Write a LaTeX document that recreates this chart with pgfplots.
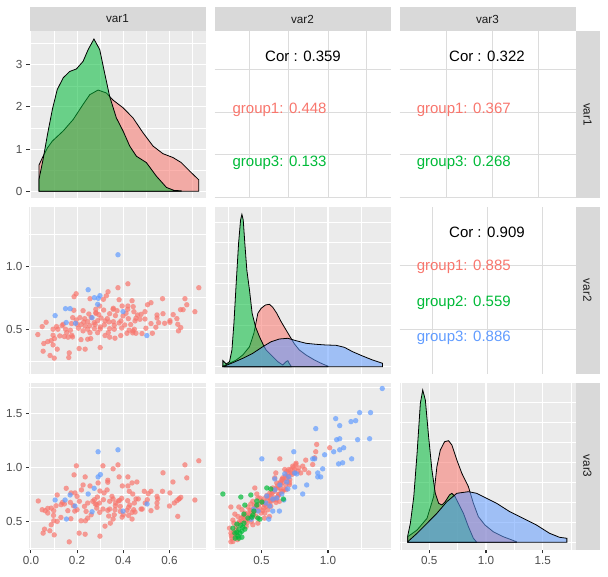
\documentclass[border=0pt]{standalone}
\usepackage{pgfplots}
\pgfplotsset{compat=1.18}
\usepackage{pgfplotstable}
\usepackage{fontspec}
\setmainfont{Liberation Sans}
\definecolor{ggbg}{HTML}{EBEBEB}
\definecolor{gred}{HTML}{F8766D}
\definecolor{ggreen}{HTML}{00BA38}
\definecolor{gblue}{HTML}{619CFF}
\definecolor{stripbg}{HTML}{D9D9D9}
\definecolor{gridt}{HTML}{DCDCDC}
\definecolor{tickl}{HTML}{4D4D4D}
\definecolor{tickc}{HTML}{333333}
\definecolor{stript}{HTML}{1A1A1A}
\newcommand{\tsz}{\fontsize{11.7}{14}\selectfont}
\newcommand{\csz}{\fontsize{15}{18}\selectfont}

% ---------- scatter data ----------
\pgfplotstableread{
x y
0.727 0.829
0.420 0.860
0.377 0.829
0.334 0.797
0.196 0.781
0.187 0.758
0.327 0.765
0.314 0.737
0.256 0.742
0.382 0.734
0.438 0.726
0.570 0.742
0.667 0.742
0.520 0.710
0.505 0.694
0.675 0.694
0.420 0.684
0.395 0.684
0.357 0.666
0.356 0.658
0.315 0.652
0.281 0.658
0.226 0.647
0.186 0.650
0.282 0.626
0.294 0.616
0.251 0.621
0.341 0.623
0.373 0.647
0.494 0.639
0.462 0.613
0.477 0.618
0.572 0.623
0.546 0.613
0.546 0.589
0.616 0.616
0.648 0.655
0.659 0.655
0.710 0.639
0.632 0.584
0.602 0.568
0.602 0.555
0.553 0.552
0.520 0.545
0.494 0.581
0.472 0.579
0.455 0.587
0.451 0.566
0.422 0.584
0.390 0.566
0.382 0.550
0.338 0.558
0.321 0.566
0.289 0.568
0.274 0.552
0.246 0.560
0.229 0.558
0.217 0.537
0.196 0.573
0.181 0.592
0.176 0.545
0.140 0.539
0.135 0.529
0.111 0.521
0.066 0.555
0.049 0.521
0.096 0.500
0.117 0.500
0.150 0.500
0.171 0.492
0.206 0.508
0.226 0.487
0.246 0.500
0.275 0.505
0.301 0.518
0.318 0.534
0.341 0.505
0.361 0.500
0.393 0.510
0.425 0.492
0.442 0.487
0.448 0.500
0.441 0.471
0.481 0.466
0.498 0.508
0.541 0.516
0.579 0.547
0.636 0.539
0.649 0.513
0.639 0.487
0.030 0.458
0.056 0.387
0.073 0.402
0.088 0.410
0.102 0.426
0.125 0.447
0.145 0.442
0.161 0.437
0.180 0.439
0.217 0.418
0.246 0.421
0.259 0.426
0.289 0.473
0.321 0.450
0.341 0.437
0.364 0.429
0.389 0.450
0.416 0.468
0.455 0.468
0.526 0.468
0.096 0.376
0.114 0.342
0.053 0.326
0.083 0.292
0.101 0.271
0.166 0.313
0.164 0.276
0.209 0.347
0.235 0.342
0.300 0.355
0.335 0.473
0.155 0.473
0.096 0.452
0.177 0.452
0.256 0.473
0.300 0.502
0.278 0.537
0.255 0.529
0.235 0.526
0.200 0.539
0.361 0.531
0.406 0.534
0.432 0.537
0.357 0.560
0.331 0.584
0.304 0.589
0.366 0.608
0.399 0.605
0.412 0.626
0.446 0.639
0.443 0.679
0.419 0.658
0.298 0.684
0.281 0.631
0.261 0.592
0.233 0.584
0.212 0.592
}\rtwoonered
\pgfplotstableread{
x y
0.377 1.090
0.248 0.813
0.299 0.766
0.275 0.750
0.292 0.745
0.289 0.697
0.150 0.663
0.170 0.663
0.105 0.608
0.399 0.640
0.153 0.553
0.193 0.547
0.265 0.592
0.502 0.450
}\rtwooneblue
\pgfplotstableread{
x y
0.727 1.063
0.667 1.025
0.675 0.904
0.572 0.951
0.615 0.866
0.197 1.016
0.312 1.016
0.377 1.025
0.356 0.988
0.187 0.932
0.235 0.913
0.291 0.857
0.333 0.882
0.333 0.863
0.382 0.913
0.420 0.913
0.438 0.857
0.459 0.866
0.226 0.838
0.256 0.829
0.396 0.829
0.420 0.829
0.153 0.807
0.219 0.792
0.191 0.764
0.174 0.764
0.114 0.745
0.200 0.732
0.330 0.792
0.299 0.782
0.317 0.764
0.351 0.732
0.356 0.708
0.393 0.714
0.379 0.689
0.426 0.779
0.441 0.754
0.455 0.708
0.465 0.708
0.491 0.779
0.520 0.779
0.508 0.757
0.570 0.779
0.602 0.764
0.546 0.732
0.549 0.708
0.649 0.723
0.642 0.708
0.632 0.692
0.621 0.670
0.710 0.698
0.546 0.670
0.546 0.630
0.600 0.642
0.495 0.670
0.448 0.670
0.428 0.651
0.423 0.630
0.445 0.608
0.482 0.614
0.520 0.599
0.451 0.586
0.416 0.602
0.400 0.561
0.423 0.555
0.438 0.521
0.387 0.592
0.364 0.608
0.341 0.614
0.333 0.602
0.312 0.614
0.285 0.623
0.279 0.661
0.297 0.670
0.268 0.686
0.246 0.670
0.232 0.639
0.239 0.592
0.261 0.561
0.246 0.530
0.236 0.505
0.217 0.505
0.190 0.595
0.160 0.599
0.131 0.655
0.109 0.645
0.088 0.623
0.062 0.599
0.049 0.608
0.032 0.689
0.073 0.577
0.099 0.599
0.098 0.555
0.130 0.536
0.173 0.524
0.114 0.499
0.099 0.505
0.088 0.468
0.059 0.427
0.053 0.390
0.082 0.412
0.101 0.374
0.166 0.309
0.209 0.390
0.235 0.380
0.299 0.362
0.321 0.455
0.344 0.483
0.356 0.521
0.337 0.549
0.361 0.561
0.395 0.539
0.438 0.583
0.477 0.614
0.504 0.701
0.145 0.661
0.210 0.686
0.285 0.655
0.298 0.583
0.341 0.686
0.367 0.670
0.384 0.695
0.419 0.692
0.387 0.639
0.366 0.645
0.314 0.701
0.288 0.726
0.275 0.701
0.636 0.546
0.641 0.708
0.200 0.608
0.184 0.645
0.171 0.676
0.137 0.676
0.073 0.620
}\rthreeonered
\pgfplotstableread{
x y
0.291 1.147
0.377 1.165
0.301 0.935
0.291 0.913
0.274 0.807
0.248 0.754
0.170 0.745
0.105 0.698
0.148 0.698
0.191 0.642
0.503 0.661
0.399 0.595
0.265 0.589
0.154 0.521
}\rthreeoneblue
\pgfplotstableread{
x y
0.270 0.633
0.300 0.567
0.330 0.633
0.375 0.577
0.360 0.539
0.285 0.511
0.293 0.483
0.260 0.436
0.270 0.390
0.278 0.343
0.285 0.312
0.315 0.380
0.390 0.483
0.405 0.520
0.413 0.605
0.420 0.661
0.450 0.651
0.465 0.754
0.488 0.717
0.510 0.670
0.518 0.623
0.525 0.577
0.548 0.608
0.563 0.686
0.563 0.763
0.585 0.810
0.600 0.904
0.615 0.857
0.638 0.810
0.645 0.857
0.660 0.904
0.675 0.982
0.690 0.966
0.705 0.982
0.735 1.013
0.750 0.982
0.780 0.997
0.795 0.950
0.833 1.069
0.855 0.950
0.885 1.028
0.900 1.091
0.908 1.147
0.915 1.215
1.013 1.184
0.638 1.081
0.450 0.810
0.608 0.950
0.630 0.748
0.653 0.888
0.683 0.841
0.713 0.888
0.728 0.935
0.758 1.028
0.773 0.966
0.810 1.013
0.825 0.982
0.473 0.717
0.435 0.686
0.398 0.633
0.353 0.608
0.323 0.545
0.335 0.499
0.373 0.520
0.410 0.561
0.448 0.592
0.485 0.623
0.523 0.654
0.548 0.717
0.573 0.748
0.598 0.779
0.623 0.810
0.648 0.841
0.673 0.873
0.698 0.919
0.723 0.950
0.748 0.950
0.573 0.686
0.598 0.717
0.623 0.732
0.535 0.639
0.498 0.577
0.460 0.545
0.423 0.499
0.385 0.452
0.348 0.530
0.310 0.421
0.273 0.365
0.685 0.795
0.710 0.841
0.635 0.686
0.660 0.779
0.610 0.676
0.560 0.545
0.523 0.530
0.473 0.483
0.435 0.468
0.290 0.400
0.310 0.450
0.330 0.480
0.350 0.500
0.370 0.550
0.400 0.570
0.420 0.600
0.440 0.620
0.460 0.640
0.480 0.660
0.500 0.690
0.520 0.710
0.540 0.740
0.560 0.720
0.580 0.760
0.600 0.800
0.620 0.830
0.640 0.860
0.660 0.890
0.680 0.920
0.700 0.950
0.720 0.980
0.740 1.000
0.760 1.040
0.470 0.600
0.510 0.600
0.550 0.660
0.590 0.700
0.630 0.750
0.670 0.800
0.710 0.860
0.380 0.500
0.420 0.530
0.440 0.570
0.530 0.680
0.570 0.640
0.610 0.700
0.650 0.780
0.690 0.900
0.320 0.330
0.300 0.360
0.270 0.310
}\rthreetwored
\pgfplotstableread{
x y
1.408 1.735
1.238 1.511
1.320 1.511
1.058 1.455
1.173 1.427
1.208 1.436
1.088 1.390
0.908 1.362
1.065 1.259
1.088 1.268
1.223 1.259
1.313 1.268
1.118 1.184
1.088 1.165
1.043 1.147
0.975 1.119
0.743 1.147
1.178 1.081
0.503 1.081
0.885 1.081
0.900 1.081
1.110 1.044
1.080 1.034
0.960 0.988
0.923 0.950
0.923 0.913
0.945 0.913
0.840 0.838
0.810 0.754
0.750 0.950
0.765 0.941
0.705 0.913
0.690 0.866
0.750 0.819
0.698 0.801
0.653 0.754
0.668 0.698
0.540 0.735
0.585 0.707
0.615 0.717
0.563 0.642
0.585 0.595
0.635 0.595
0.555 0.520
0.443 0.614
0.423 0.520
0.475 0.595
0.533 0.670
0.675 0.941
0.600 0.894
0.638 0.838
0.600 0.792
}\rthreetwoblue
\pgfplotstableread{
x y
0.210 0.754
0.345 0.726
0.420 0.745
0.540 0.810
0.570 0.801
0.465 0.689
0.503 0.679
0.375 0.651
0.465 0.651
0.368 0.567
0.435 0.558
0.428 0.539
0.473 0.530
0.488 0.520
0.315 0.474
0.345 0.464
0.360 0.446
0.330 0.427
0.300 0.390
0.323 0.362
0.353 0.352
0.338 0.390
0.375 0.427
0.368 0.483
0.315 0.399
0.353 0.408
0.285 0.436
0.665 0.707
0.398 0.530
0.443 0.595
0.303 0.343
0.330 0.343
}\rthreetwogreen

\pgfplotsset{
 gg/.style={scale only axis, width=176pt, height=167pt, anchor=south west,
  axis background/.style={fill=ggbg}, axis line style={draw=none},
  enlargelimits=false, clip=true,
  grid=both, major grid style={draw=white, line width=1.07pt},
  minor grid style={draw=white, line width=0.53pt},
  tick align=outside, major tick length=3.7pt, minor tick length=0pt,
  xtick style={draw=none}, ytick style={draw=none},
  xticklabels={}, yticklabels={},
  tick label style={font=\tsz, text=tickl}},
 leftticks/.style={ytick style={draw=tickc, line width=1.07pt}, ytick pos=left},
 bottomticks/.style={xtick style={draw=tickc, line width=1.07pt}, xtick pos=bottom},
 c1/.style={xmin=-0.006, xmax=0.756, xtick={0,0.2,0.4,0.6}, minor xtick={0.1,0.3,0.5,0.7}},
 c2/.style={xmin=0.147, xmax=1.47, xtick={0.5,1.0}, minor xtick={0.25,0.75,1.25}},
 c3/.style={xmin=0.237, xmax=1.79, xtick={0.5,1.0,1.5}, minor xtick={0.25,0.75,1.25,1.75}},
 r2/.style={ymin=0.147, ymax=1.47, ytick={0.5,1.0}, minor ytick={0.25,0.75,1.25}},
 r3/.style={ymin=0.237, ymax=1.79, ytick={0.5,1.0,1.5}, minor ytick={0.25,0.75,1.25,1.75}},
 txt/.style={scale only axis, width=176pt, height=167pt, anchor=south west,
  xmin=0, xmax=1, ymin=0, ymax=1, axis line style={draw=none},
  major grid style={draw=gridt, line width=0.9pt}, xmajorgrids, ymajorgrids,
  xtick style={draw=none}, ytick style={draw=none}, xticklabels={}, yticklabels={}},
 pts/.style={only marks, mark=*, mark size=2.7pt, color=#1, mark options={line width=0pt, draw opacity=0, fill=#1, fill opacity=0.7}},
 dens/.style={draw=black, line width=0.8pt, fill=#1, fill opacity=0.55},
}

\begin{document}
\begin{tikzpicture}
% ===== row 1 =====
\begin{axis}[gg, c1, leftticks, at={(29.5pt,379pt)}, ymin=-0.16, ymax=3.80,
  ytick={0,1,2,3}, minor ytick={0.5,1.5,2.5,3.5}, yticklabels={0,1,2,3}]
\addplot[dens=gred] coordinates {(0.035,0) (0.035,0.62) (0.053,0.83) (0.072,1.03) (0.093,1.19) (0.140,1.43) (0.183,1.70) (0.226,2.06) (0.255,2.29) (0.291,2.40) (0.327,2.33) (0.356,2.16) (0.399,1.98) (0.442,1.74) (0.485,1.39) (0.529,1.07) (0.572,0.89) (0.615,0.80) (0.651,0.68) (0.687,0.48) (0.727,0.27) (0.727,0)} \closedcycle;
\addplot[dens=ggreen] coordinates {(0.035,0) (0.035,0.28) (0.053,0.76) (0.072,1.35) (0.093,1.94) (0.114,2.41) (0.140,2.69) (0.168,2.84) (0.197,2.90) (0.226,3.08) (0.248,3.36) (0.273,3.61) (0.298,3.36) (0.319,2.81) (0.341,2.25) (0.370,1.74) (0.399,1.43) (0.428,1.07) (0.457,0.83) (0.500,0.68) (0.543,0.36) (0.587,0.09) (0.620,0.02) (0.651,0.01) (0.651,0)} \closedcycle;
\end{axis}
\begin{axis}[txt, at={(214.5pt,379pt)}, xtick={0.196,0.418,0.645,0.866}, ytick={0.006,0.263,0.515,0.772}]
\node[font=\csz, text=black] at (axis cs:0.503,0.85) {Cor : 0.359};
\node[font=\csz, text=gred, anchor=west] at (axis cs:0.083,0.527) {group1: 0.448};
\node[font=\csz, text=ggreen, anchor=west] at (axis cs:0.083,0.21) {group3: 0.133};
\end{axis}
\begin{axis}[txt, at={(399.5pt,379pt)}, xtick={0.264,0.526,0.787}, ytick={0.006,0.263,0.515,0.772}]
\node[font=\csz, text=black] at (axis cs:0.497,0.85) {Cor : 0.322};
\node[font=\csz, text=gred, anchor=west] at (axis cs:0.078,0.527) {group1: 0.367};
\node[font=\csz, text=ggreen, anchor=west] at (axis cs:0.078,0.21) {group3: 0.268};
\end{axis}
% ===== row 2 =====
\begin{axis}[gg, c1, r2, leftticks, at={(29.5pt,203.2pt)}, yticklabels={0.5,1.0}]
\addplot[pts=gred] table {\rtwoonered};
\addplot[pts=gblue] table {\rtwooneblue};
\end{axis}
\begin{axis}[gg, c2, at={(214.5pt,203.2pt)}, ymin=-0.71, ymax=15.99,
  ytick={0,4.14,8.28,12.42}, minor ytick={2.07,6.21,10.35,14.49}]
\addplot[dens=gred] coordinates {(0.21,0) (0.21,0.07) (0.26,0.34) (0.31,0.67) (0.36,1.17) (0.41,2.0) (0.443,3.34) (0.473,5.34) (0.498,5.84) (0.53,6.17) (0.56,6.24) (0.585,5.94) (0.615,5.34) (0.648,4.5) (0.685,3.67) (0.715,3.0) (0.748,2.27) (0.785,1.67) (0.835,1.17) (0.898,0.67) (0.96,0.27) (1.0,0.05) (1.0,0)} \closedcycle;
\addplot[dens=ggreen] coordinates {(0.21,0) (0.21,0.6) (0.235,0.27) (0.26,0.5) (0.278,1.67) (0.293,4.34) (0.31,8.34) (0.328,12.34) (0.343,14.67) (0.353,15.24) (0.363,14.67) (0.375,12.34) (0.39,9.67) (0.41,7.67) (0.43,5.34) (0.455,4.0) (0.485,3.0) (0.518,2.07) (0.535,1.67) (0.56,1.34) (0.585,1.0) (0.623,0.5) (0.66,0.17) (0.685,0.5) (0.698,0.6) (0.71,0.3) (0.723,0.05) (0.723,0)} \closedcycle;
\addplot[dens=gblue] coordinates {(0.223,0) (0.223,0.07) (0.285,0.4) (0.36,0.84) (0.435,1.34) (0.51,2.0) (0.573,2.5) (0.635,2.77) (0.698,2.84) (0.76,2.6) (0.835,2.34) (0.91,2.24) (0.985,2.17) (1.06,2.14) (1.123,1.94) (1.185,1.5) (1.26,1.07) (1.335,0.67) (1.41,0.34) (1.41,0)} \closedcycle;
\end{axis}
\begin{axis}[txt, at={(399.5pt,203.2pt)}, xtick={0.185,0.497,0.81}, ytick={0.268,0.646}]
\node[font=\csz, text=black] at (axis cs:0.497,0.849) {Cor : 0.909};
\node[font=\csz, text=gred, anchor=west] at (axis cs:0.078,0.64) {group1: 0.885};
\node[font=\csz, text=ggreen, anchor=west] at (axis cs:0.078,0.424) {group2: 0.559};
\node[font=\csz, text=gblue, anchor=west] at (axis cs:0.078,0.214) {group3: 0.886};
\end{axis}
% ===== row 3 =====
\begin{axis}[gg, c1, r3, leftticks, bottomticks, at={(29.5pt,27.4pt)},
  yticklabels={0.5,1.0,1.5}, xticklabels={0.0,0.2,0.4,0.6}]
\addplot[pts=gred] table {\rthreeonered};
\addplot[pts=gblue] table {\rthreeoneblue};
\end{axis}
\begin{axis}[gg, c2, r3, bottomticks, at={(214.5pt,27.4pt)}, xticklabels={0.5,1.0}]
\addplot[pts=gred] table {\rthreetwored};
\addplot[pts=gblue] table {\rthreetwoblue};
\addplot[pts=ggreen] table {\rthreetwogreen};
\end{axis}
\begin{axis}[gg, c3, bottomticks, at={(399.5pt,27.4pt)}, xticklabels={0.5,1.0,1.5},
  ymin=-0.73, ymax=15.97, ytick={0,4,8,12}, minor ytick={2,6,10,14}]
\addplot[dens=gred] coordinates {(0.31,0) (0.31,0.56) (0.392,1.23) (0.48,2.4) (0.538,4.56) (0.567,7.56) (0.597,9.23) (0.635,10.06) (0.67,10.16) (0.699,9.73) (0.743,8.23) (0.787,6.9) (0.845,5.56) (0.889,3.9) (0.933,2.56) (0.991,1.73) (1.064,1.06) (1.152,0.56) (1.269,0.06) (1.269,0)} \closedcycle;
\addplot[dens=ggreen] coordinates {(0.31,0) (0.31,0.67) (0.333,1.9) (0.363,4.57) (0.392,8.9) (0.421,13.9) (0.442,15.23) (0.465,14.23) (0.494,10.56) (0.523,7.23) (0.553,4.9) (0.582,3.9) (0.611,3.73) (0.64,4.06) (0.678,4.73) (0.699,4.9) (0.728,4.56) (0.757,3.9) (0.801,2.9) (0.845,1.56) (0.889,0.4) (0.918,0.02) (0.918,0)} \closedcycle;
\addplot[dens=gblue] coordinates {(0.31,0) (0.31,0.06) (0.392,0.9) (0.48,1.9) (0.567,2.9) (0.655,4.06) (0.743,4.9) (0.845,5.06) (0.918,4.9) (1.006,4.4) (1.094,3.9) (1.21,3.06) (1.328,2.4) (1.445,1.73) (1.561,0.9) (1.649,0.5) (1.714,0.4) (1.714,0)} \closedcycle;
\end{axis}
% ===== strips =====
\fill[stripbg] (29.5pt,546pt) rectangle (205.5pt,570pt);
\fill[stripbg] (214.5pt,546pt) rectangle (390.5pt,570pt);
\fill[stripbg] (399.5pt,546pt) rectangle (575.5pt,570pt);
\node[font=\tsz, text=stript] at (117.5pt,558pt) {var1};
\node[font=\tsz, text=stript] at (302.5pt,558pt) {var2};
\node[font=\tsz, text=stript] at (487.5pt,558pt) {var3};
\fill[stripbg] (575.5pt,379pt) rectangle (599.5pt,546pt);
\fill[stripbg] (575.5pt,203.2pt) rectangle (599.5pt,370.2pt);
\fill[stripbg] (575.5pt,27.4pt) rectangle (599.5pt,194.4pt);
\node[font=\tsz, text=stript, rotate=-90] at (587.5pt,462.5pt) {var1};
\node[font=\tsz, text=stript, rotate=-90] at (587.5pt,286.7pt) {var2};
\node[font=\tsz, text=stript, rotate=-90] at (587.5pt,110.9pt) {var3};
\pgfresetboundingbox
\path[use as bounding box] (0pt,0pt) rectangle (608pt,577pt);
\end{tikzpicture}
\end{document}
